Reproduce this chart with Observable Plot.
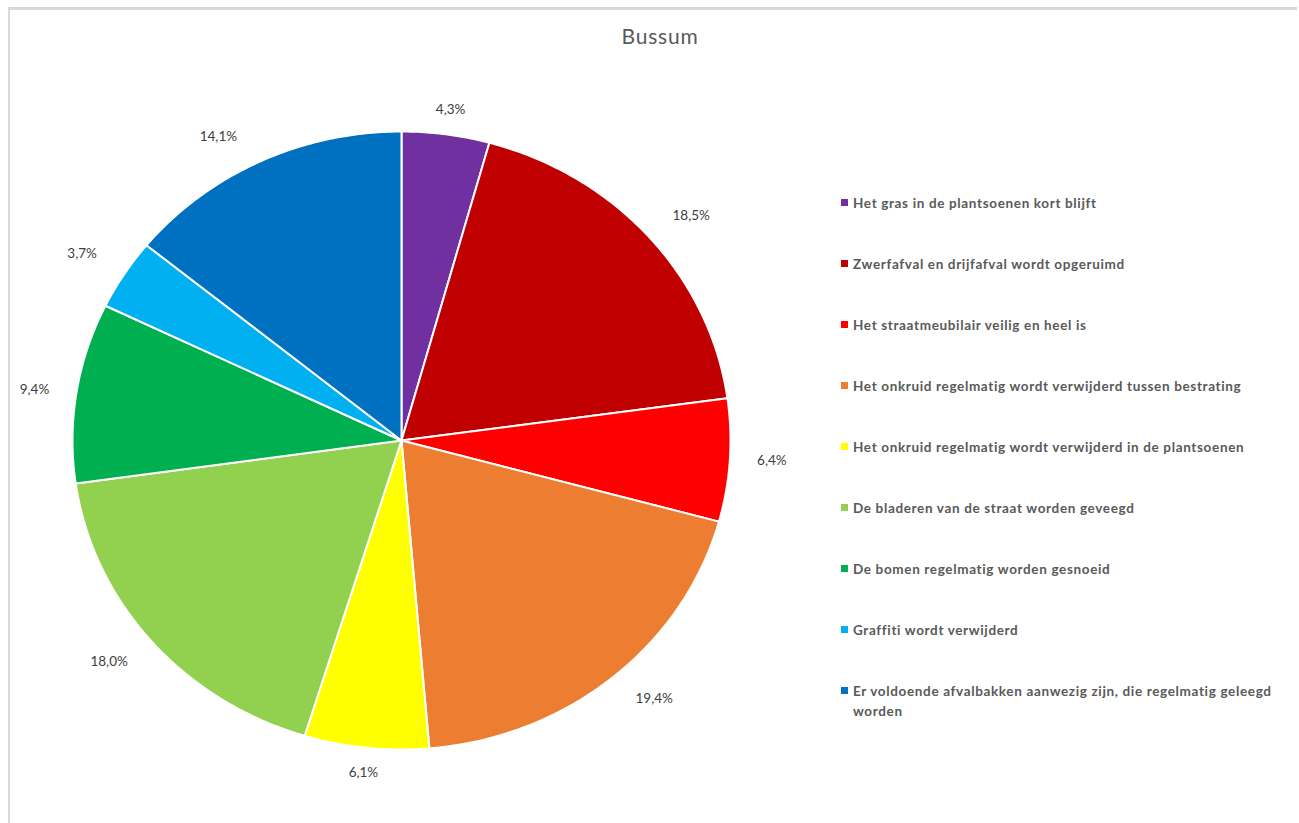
<!DOCTYPE html>
<html>
<head>
<meta charset="utf-8">
<script src="https://cdn.jsdelivr.net/npm/d3@7"></script>
<script src="https://cdn.jsdelivr.net/npm/@observablehq/plot@0.6"></script>
<style>
  html, body { margin: 0; padding: 0; background: #fff; }
  #wrap { position: relative; width: 1299px; height: 823px; overflow: hidden; font-family: Lato, "Open Sans", sans-serif; }
  #frame { position: absolute; left: 8px; top: 7px; width: 1289px; height: 830px; border-top: 3px solid #d9d9d9; border-left: 2px solid #d9d9d9; box-sizing: border-box; }
  #title { position: absolute; left: 560px; width: 200px; top: 23px; text-align: center; font-size: 21px; letter-spacing: 0.8px; color: #595959; }
  #legend { position: absolute; left: 841px; top: 193px; width: 460px; }
  .item { position: relative; height: 61px; font-size: 13.5px; font-weight: bold; letter-spacing: 0.65px; color: #595959; line-height: 20px; }
  .sw { position: absolute; left: 0; top: 6px; width: 7px; height: 7px; }
  .lbl { position: absolute; left: 12px; top: 0; width: 440px; }
  #chart { position: absolute; left: 0; top: 0; }
</style>
</head>
<body>
<div id="wrap">
  <div id="chart"></div>
  <div id="frame"></div>
  <div id="title">Bussum</div>
  <div id="legend"></div>
</div>
<script>
const categories = [
  "Het gras in de plantsoenen kort blijft",
  "Zwerfafval en drijfafval wordt opgeruimd",
  "Het straatmeubilair veilig en heel is",
  "Het onkruid regelmatig wordt verwijderd tussen bestrating",
  "Het onkruid regelmatig wordt verwijderd in de plantsoenen",
  "De bladeren van de straat worden geveegd",
  "De bomen regelmatig worden gesnoeid",
  "Graffiti wordt verwijderd",
  "Er voldoende afvalbakken aanwezig zijn, die regelmatig geleegd worden"
];
const values = [4.3, 18.5, 6.4, 19.4, 6.1, 18.0, 9.4, 3.7, 14.1];
const labels = ["4,3%", "18,5%", "6,4%", "19,4%", "6,1%", "18,0%", "9,4%", "3,7%", "14,1%"];
const colors = ["#7030A0", "#C00000", "#FF0000", "#ED7D31", "#FFFF00", "#92D050", "#00B050", "#00B0F0", "#0070C0"];

// Pie geometry from values (clockwise from 12 o'clock)
const pie = d3.pie().sort(null).value(d => d)(values);
const slicePts = [];
pie.forEach((p, i) => {
  const a0 = p.startAngle, a1 = p.endAngle;
  const n = Math.max(2, Math.ceil((a1 - a0) / 0.01));
  slicePts.push({cat: categories[i], x: 0, y: 0});
  for (let j = 0; j <= n; j++) {
    const a = a0 + (a1 - a0) * j / n;
    slicePts.push({cat: categories[i], x: Math.sin(a), y: Math.cos(a)});
  }
  slicePts.push({cat: categories[i], x: 0, y: 0});
});

// label positions: just outside the edge along the mid angle
const RX = 329, RY = 309;
const lab = pie.map((p, i) => {
  const a = (p.startAngle + p.endAngle) / 2;
  const ux = Math.sin(a), uy = Math.cos(a);
  const fx = Math.sign(ux) * Math.pow(Math.min(1, Math.abs(ux) / 0.4), 2) * 42;
  const fy = Math.sign(uy) * (Math.pow(Math.min(1, Math.abs(uy) / 0.4), 2) * 21 + (Math.abs(uy) > 0.9 ? 4 : 0));
  return {text: labels[i], x: ux + fx / RX, y: uy + fy / RY};
});

const chart = Plot.plot({
  width: 1299,
  height: 823,
  margin: 0,
  x: {domain: [-1, 1], range: [401 - RX, 401 + RX], axis: null},
  y: {domain: [-1, 1], range: [440 + RY, 440 - RY], axis: null},
  color: {domain: categories, range: colors},
  style: {fontFamily: "Lato, 'Open Sans', sans-serif", background: "transparent"},
  marks: [
    Plot.line(slicePts, {x: "x", y: "y", z: "cat", fill: "cat", stroke: "white", strokeWidth: 2, strokeLinejoin: "round", curve: "linear"}),
    Plot.text(lab, {x: "x", y: "y", text: "text", fontSize: 13.5, fill: "#404040", letterSpacing: 0.3})
  ]
});
document.getElementById("chart").appendChild(chart);

const legend = document.getElementById("legend");
categories.forEach((c, i) => {
  const item = document.createElement("div");
  item.className = "item";
  const sw = document.createElement("div");
  sw.className = "sw";
  sw.style.background = colors[i];
  const t = document.createElement("div");
  t.className = "lbl";
  t.textContent = c;
  item.appendChild(sw);
  item.appendChild(t);
  legend.appendChild(item);
});
</script>
</body>
</html>
